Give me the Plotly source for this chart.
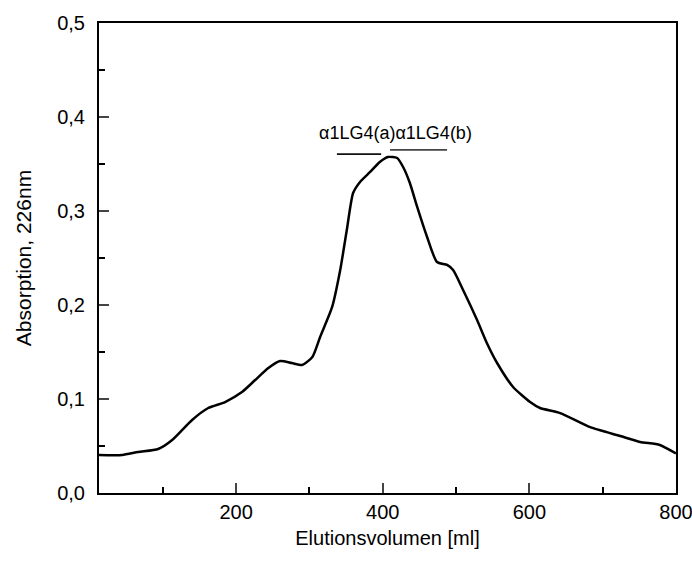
import plotly.graph_objects as go

# Elution profile
volume_ml = [13, 44.6, 66.4, 93.7, 112.8, 140, 162, 185, 208, 226, 244, 260, 276, 290,
             304, 314.6, 331, 342, 351, 359.6, 369, 382.8, 396, 407, 419.6, 427.8, 437,
             447, 460.5, 474, 487.8, 496, 509.6, 528.7, 542, 556, 577.8, 601, 614.6,
             642, 683, 724, 751, 778, 800]
absorption = [0.0404, 0.0404, 0.0436, 0.0468, 0.0564, 0.0777, 0.0904, 0.0968, 0.1074,
              0.1202, 0.1330, 0.1404, 0.1383, 0.1362, 0.1447, 0.1660, 0.1979, 0.2372,
              0.2798, 0.3191, 0.3309, 0.3415, 0.3521, 0.3574, 0.3564, 0.3468, 0.3298,
              0.3043, 0.2723, 0.2457, 0.2426, 0.2372, 0.2160, 0.1840, 0.1596, 0.1383,
              0.1128, 0.0968, 0.0904, 0.0850, 0.0700, 0.0606, 0.0543, 0.0511, 0.0420]

# Fraction bars
frac_a_x = [337.5, 397.8]
frac_a_y = 0.3606
frac_b_x = [410, 487.7]
frac_b_y = 0.365
frac_label = "α1LG4(a)α1LG4(b)"
frac_label_pos = (417, 0.383)

fig = go.Figure()
fig.add_trace(go.Scatter(x=volume_ml, y=absorption, mode="lines",
                         line=dict(color="black", width=2.5, shape="spline", smoothing=0.6),
                         showlegend=False))
fig.add_trace(go.Scatter(x=frac_a_x, y=[frac_a_y] * 2, mode="lines",
                         line=dict(color="#111111", width=1.8), showlegend=False))
fig.add_trace(go.Scatter(x=frac_b_x, y=[frac_b_y] * 2, mode="lines",
                         line=dict(color="#444444", width=1.6), showlegend=False))

fig.add_annotation(x=frac_label_pos[0], y=frac_label_pos[1], text=frac_label,
                   showarrow=False, font=dict(family="Liberation Sans, Arial", size=18, color="black"))

font = dict(family="Liberation Sans, Arial", size=20, color="black")
yfont = dict(family="Liberation Sans, Arial", size=21, color="black")
fig.update_layout(
    width=692, height=566,
    margin=dict(l=99, r=16, t=23, b=73),
    plot_bgcolor="white", paper_bgcolor="white",
    separators=", ",
    font=font,
    xaxis=dict(range=[13, 800], tick0=0, dtick=200, ticks="inside", ticklen=10, tickwidth=2,
               showline=True, linecolor="black", linewidth=2, mirror=True, showgrid=False,
               zeroline=False, tickfont=font, automargin=False, ticklabeloverflow="allow",
               minor=dict(dtick=100, ticks="inside", ticklen=6, tickwidth=2, tickcolor="black"),
               title=dict(text="Elutionsvolumen [ml]", font=font, standoff=9)),
    yaxis=dict(range=[0, 0.5], tick0=0, dtick=0.1, tickformat=".1f", ticks="inside", ticklen=10,
               tickwidth=2, showline=True, linecolor="black", linewidth=2, mirror=True,
               showgrid=False, zeroline=False, tickfont=font, ticklabelstandoff=8,
               automargin=False, ticklabeloverflow="allow",
               minor=dict(dtick=0.05, ticks="inside", ticklen=6, tickwidth=2, tickcolor="black"),
               title=dict(text="Absorption, 226nm", font=yfont, standoff=20)),
)
fig.write_html("out.html")
